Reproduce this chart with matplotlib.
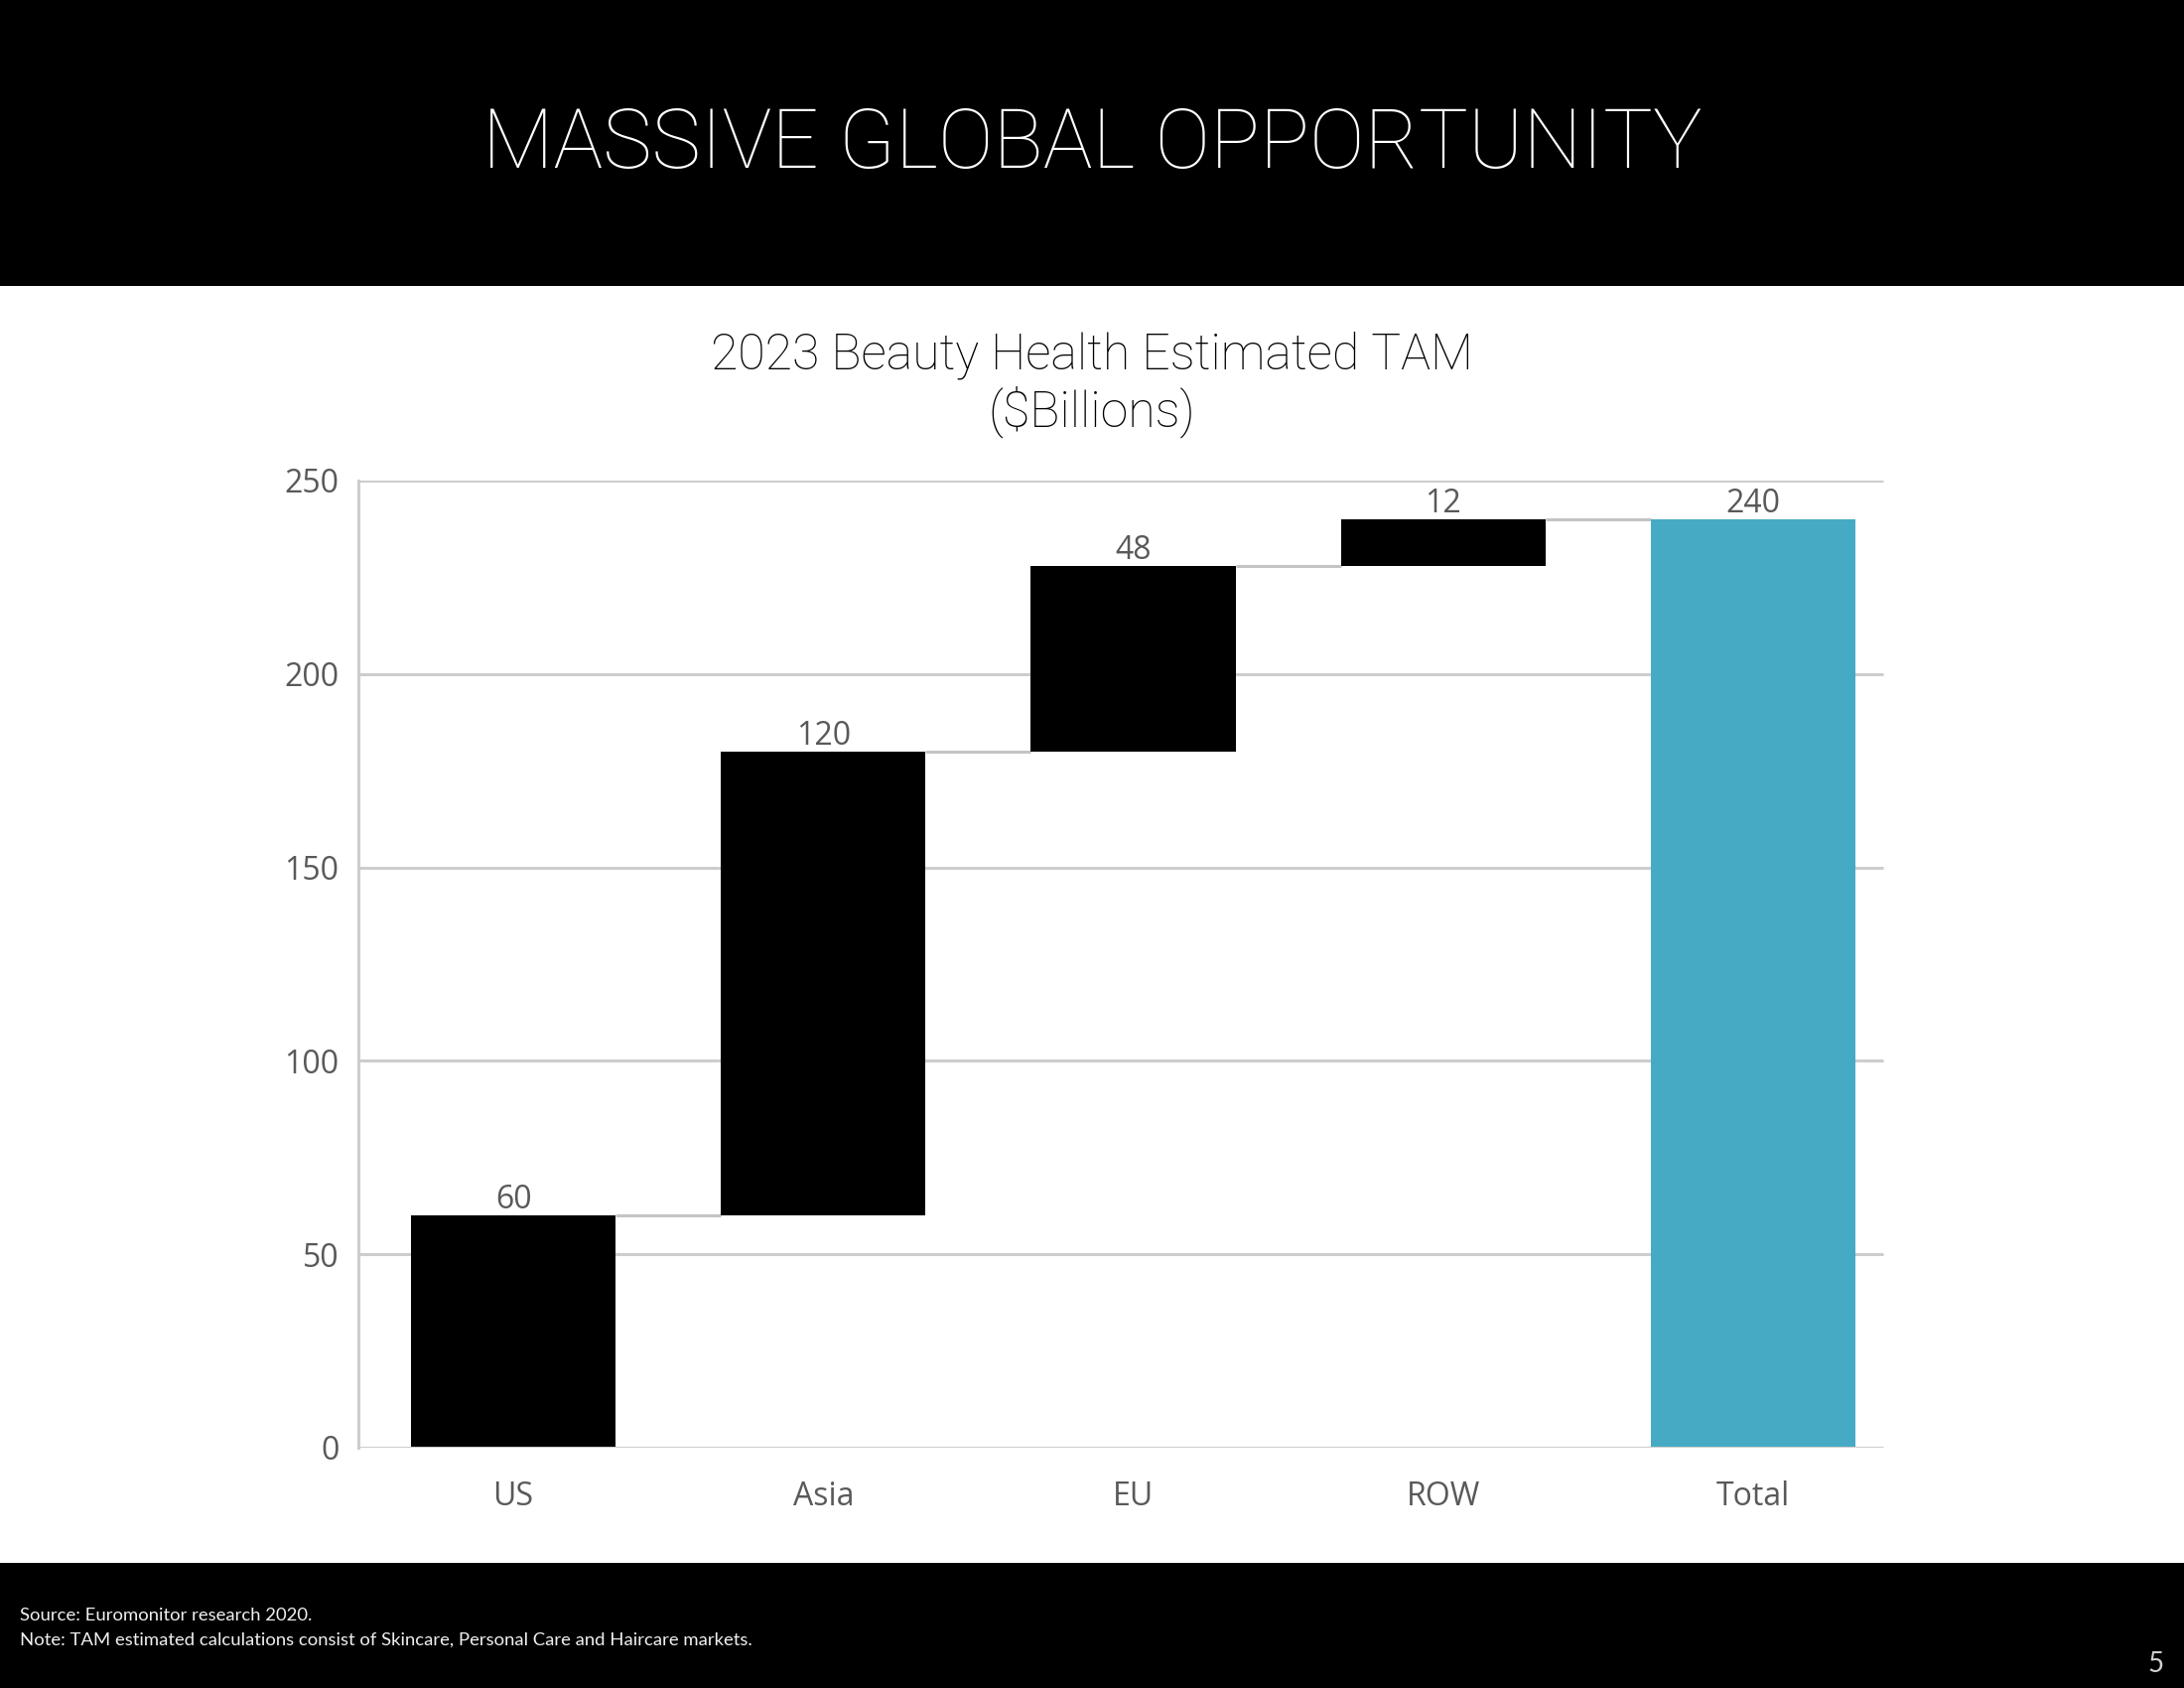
"""Waterfall chart: 2023 Beauty Health Estimated TAM."""

import numpy as np
import matplotlib
matplotlib.use("Agg")
import matplotlib.pyplot as plt
from matplotlib.patches import Rectangle

# Data
categories = ["US", "Asia", "EU", "ROW", "Total"]
values = [60, 120, 48, 12, 240]
is_total = [False, False, False, False, True]
y_ticks = [0, 50, 100, 150, 200, 250]

TITLE = "MASSIVE GLOBAL OPPORTUNITY"
SUBTITLE_LINES = ["2023 Beauty Health Estimated TAM", "($Billions)"]
FOOTNOTES = ["Source: Euromonitor research 2020.",
             "Note: TAM estimated calculations consist of Skincare, Personal Care and Haircare markets."]
PAGE = "5"

BAR_BLACK = "#000000"
BAR_TEAL = "#47aac5"
GRID = "#cdcdcd"
TEXT_GRAY = "#595959"
THIN_FONT = ["Roboto", "DejaVu Sans"]
FOOT_FONT = ["Lato", "DejaVu Sans"]
LABEL_FONT = ["Open Sans", "DejaVu Sans"]

# waterfall bottoms
bottoms = []
running = 0
for v, tot in zip(values, is_total):
    if tot:
        bottoms.append(0)
    else:
        bottoms.append(running)
        running += v
tops = [b + v for b, v in zip(bottoms, values)]

fig = plt.figure(figsize=(22, 17), dpi=100, facecolor="white")

# black header and footer bands
fig.patches.append(Rectangle((0, 1 - 288 / 1700), 1, 288 / 1700, transform=fig.transFigure,
                             facecolor="black", edgecolor="none", zorder=0))
fig.patches.append(Rectangle((0, 0), 1, 126 / 1700, transform=fig.transFigure,
                             facecolor="black", edgecolor="none", zorder=0))

fig.text(0.5, 1 - 169 / 1700, TITLE, ha="center", va="baseline", color="white",
         fontsize=60, family=THIN_FONT, fontweight="light")
fig.text(0.5, 1 - 372 / 1700, SUBTITLE_LINES[0], ha="center", va="baseline",
         color="black", fontsize=36, family=THIN_FONT, fontweight="light")
fig.text(0.5, 1 - 429 / 1700, SUBTITLE_LINES[1], ha="center", va="baseline",
         color="black", fontsize=36, family=THIN_FONT, fontweight="light")

ax = fig.add_axes([361 / 2200, 1 - 1458 / 1700, 1561 / 2200, 974 / 1700])
x = np.arange(len(categories))
width = 0.66
colors = [BAR_TEAL if t else BAR_BLACK for t in is_total]
ax.bar(x, values, bottom=bottoms, width=width, color=colors, zorder=3)

ax.set_xlim(-0.5, len(categories) - 0.5)
ax.set_ylim(0, 250)

# gridlines stop a little short of the last category band
grid_end = len(categories) - 0.58
ax.hlines(y_ticks[1:], -0.5, grid_end, color=GRID, lw=2.2, zorder=1)
ax.hlines(0, -0.5, grid_end, color=GRID, lw=2.2, zorder=4)

# connector lines between bars
for i in range(len(categories) - 1):
    level = tops[i]
    ax.plot([x[i] + width / 2, x[i + 1] - width / 2], [level, level],
            color="#c4c4c4", lw=2.2, zorder=2, solid_capstyle="butt")

# value labels
for xi, top, v in zip(x, tops, values):
    ax.annotate(f"{v}", (xi, top), xytext=(0, 5), textcoords="offset points",
                ha="center", va="baseline", fontsize=23, color=TEXT_GRAY,
                family=LABEL_FONT)

ax.set_yticks(y_ticks)
ax.set_xticks(x)
ax.set_xticklabels(categories)
ax.tick_params(axis="both", length=0, labelsize=23, labelcolor=TEXT_GRAY)
ax.tick_params(axis="y", pad=14)
ax.tick_params(axis="x", pad=24)
for lbl in ax.get_xticklabels() + ax.get_yticklabels():
    lbl.set_family(LABEL_FONT)

for side in ["top", "right", "bottom"]:
    ax.spines[side].set_visible(False)
ax.spines["left"].set_color(GRID)
ax.spines["left"].set_linewidth(2.2)

# footer
fig.text(20 / 2200, 1 - 1632 / 1700, FOOTNOTES[0], ha="left", va="baseline",
         color="#f0f0f0", fontsize=13.3, family=FOOT_FONT)
fig.text(20 / 2200, 1 - 1657 / 1700, FOOTNOTES[1], ha="left", va="baseline",
         color="#f0f0f0", fontsize=13.3, family=FOOT_FONT)
fig.text(2172 / 2200, 1 - 1684 / 1700, PAGE, ha="center", va="baseline",
         color="#d0d0d0", fontsize=20, family=FOOT_FONT)

plt.savefig("out.png", dpi=100, facecolor="white")
